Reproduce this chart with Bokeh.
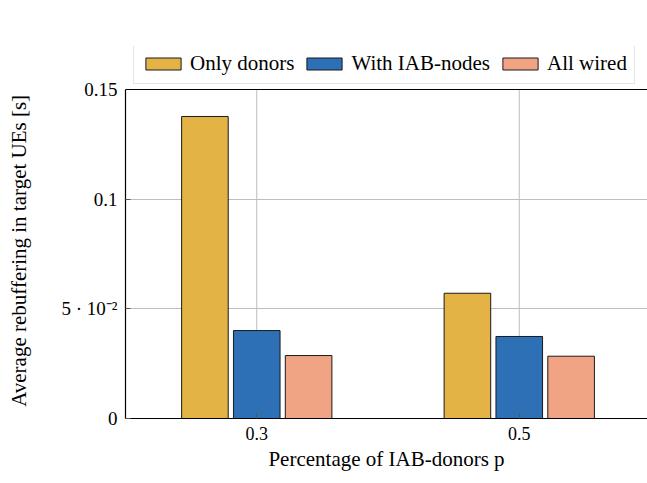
from bokeh.plotting import figure
from bokeh.models import (ColumnDataSource, FixedTicker, Legend, LegendItem, Range1d, Span)
from bokeh.transform import dodge
from bokeh.embed import file_html
from bokeh.resources import INLINE

# Data
p_values = [0.3, 0.5]
only_donors = [0.1377, 0.0571]
with_iab_nodes = [0.0401, 0.0374]
all_wired = [0.0287, 0.0284]
y_ticks = [0, 0.05, 0.1, 0.15]
y_tick_labels = ["0", "5 · 10⁻²", "0.1", "0.15"]
series_names = ["Only donors", "With IAB-nodes", "All wired"]

FONT = "Liberation Serif"
colors = ["#E3B346", "#2E70B6", "#F0A484"]
EDGE = "#1a1a1a"
Y_MAX = y_ticks[-1]

src = ColumnDataSource(dict(x=p_values, a=only_donors, b=with_iab_nodes, c=all_wired,
                            y0=[0] * len(p_values), y1=[Y_MAX] * len(p_values)))

# frame reaches up to the legend strip; axis/grid are bounded to [0, Y_MAX]
p = figure(width=647, height=483, output_backend="svg", toolbar_location=None,
           x_range=Range1d(0.2, 0.5977), y_range=Range1d(0, Y_MAX * 372 / 329),
           min_border_left=125, min_border_right=0, min_border_top=46, min_border_bottom=65)
p.background_fill_color = "white"
p.border_fill_color = "white"
p.outline_line_color = None

# vertical grid lines at the categories (bounded to the axis range)
p.segment(x0="x", y0="y0", x1="x", y1="y1", source=src, line_color="#bdbdbd", line_width=1,
          level="underlay")

bw = 0.0355
offs = [-0.0395, 0.0, 0.0395]
rs = []
for key, col, off in zip(["a", "b", "c"], colors, offs):
    rs.append(p.vbar(x=dodge("x", off), top=key, width=bw, source=src, fill_color=col,
                     line_color=EDGE, line_width=1))

p.add_layout(Span(location=Y_MAX, dimension="width", line_color="black", line_width=1.2))

p.xaxis.ticker = FixedTicker(ticks=p_values)
p.yaxis.ticker = FixedTicker(ticks=y_ticks)
p.yaxis.bounds = (0, Y_MAX)
p.yaxis.major_label_overrides = {t: l for t, l in zip(y_ticks, y_tick_labels)}
p.xaxis.major_label_overrides = {0.3: "0.3", 0.5: "0.5"}
for ax in (p.xaxis, p.yaxis):
    ax.axis_line_color = "black"
    ax.axis_line_width = 1.2
    ax.major_tick_in = 5
    ax.major_tick_out = 0
    ax.major_tick_line_color = "#555555"
    ax.minor_tick_line_color = None
    ax.major_label_text_font = FONT
    ax.major_label_text_color = "black"
    ax.axis_label_text_font = FONT
    ax.axis_label_text_font_style = "normal"
    ax.axis_label_text_color = "black"
p.xaxis.major_label_text_font_size = "18px"
p.yaxis.major_label_text_font_size = "19px"
p.xaxis.axis_label = "Percentage of IAB-donors p"
# trailing no-break spaces keep the label centred on the [0, 0.15] part of the axis
p.yaxis.axis_label = "Average rebuffering in target UEs [s]" + "\u00a0" * 7
p.xaxis.axis_label_text_font_size = "21px"
p.yaxis.axis_label_text_font_size = "21px"
p.xaxis.major_label_standoff = 8
p.yaxis.major_label_standoff = 8
p.xaxis.axis_label_standoff = 4
p.yaxis.axis_label_standoff = 27

p.xgrid.visible = False
p.ygrid.ticker = FixedTicker(ticks=y_ticks)
p.ygrid.grid_line_color = "#bdbdbd"

legend = Legend(items=[LegendItem(label=n, renderers=[r]) for n, r in zip(series_names, rs)],
                orientation="horizontal", location=(8, 334))
legend.label_text_font = FONT
legend.label_text_font_size = "21px"
legend.label_text_color = "black"
legend.glyph_width = 44
legend.glyph_height = 15
legend.label_standoff = 5
legend.spacing = 8
legend.padding = 7
legend.margin = 0
legend.border_line_color = "#cccccc"
legend.border_line_width = 1
legend.background_fill_color = "white"
legend.background_fill_alpha = 1.0
p.add_layout(legend, "center")

open("out.html", "w").write(file_html(p, INLINE))
